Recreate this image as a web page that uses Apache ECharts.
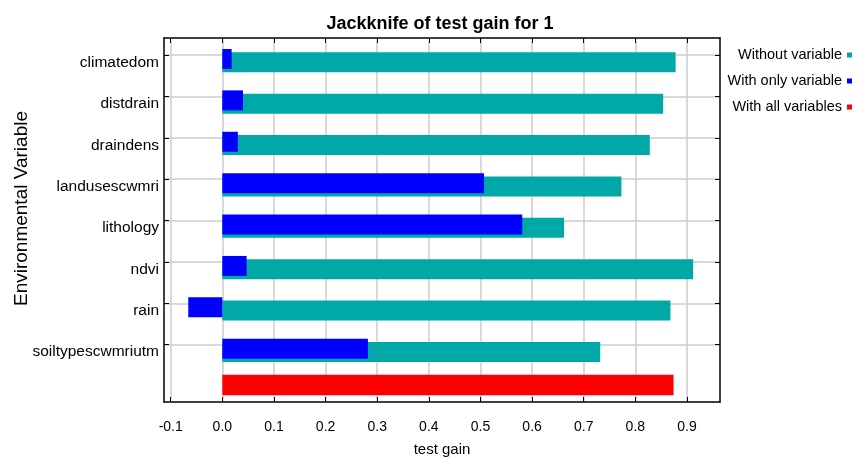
<!DOCTYPE html>
<html>
<head>
<meta charset="utf-8">
<script src="https://cdn.jsdelivr.net/npm/echarts@6/dist/echarts.min.js"></script>
<style>
  html, body { margin: 0; padding: 0; background: #ffffff; }
  #chart { width: 864px; height: 458px; }
</style>
</head>
<body>
<div id="chart"></div>
<script>
// ---- data ----
const categories = ['climatedom', 'distdrain', 'draindens', 'landusescwmri', 'lithology', 'ndvi', 'rain', 'soiltypescwmriutm'];
const withoutVariable = [0.878, 0.854, 0.828, 0.773, 0.662, 0.912, 0.868, 0.732];
const withOnlyVariable = [0.018, 0.040, 0.030, 0.507, 0.581, 0.047, -0.066, 0.282];
const withAllVariables = [0.874];
const xTicks = [-0.1, 0.0, 0.1, 0.2, 0.3, 0.4, 0.5, 0.6, 0.7, 0.8, 0.9];
const seriesNames = ['Without variable', 'With only variable', 'With all variables'];

// ---- build ----
const rowIdx = categories.map((_, i) => i);
const allRow = categories.length; // unlabeled bottom row
const FONT = '"Liberation Sans", Arial, sans-serif';

function barRenderer(offsetFrac, heightFrac) {
  return function (params, api) {
    const idx = api.value(1);
    const p0 = api.coord([0, idx]);
    const p1 = api.coord([api.value(0), idx]);
    const band = Math.abs(api.size([0, 1])[1]);
    const h = band * heightFrac;
    const cy = p0[1] + band * offsetFrac;
    return {
      type: 'rect',
      shape: { x: Math.min(p0[0], p1[0]), y: cy - h / 2, width: Math.abs(p1[0] - p0[0]), height: h },
      style: api.style()
    };
  };
}

const xMin = -0.113, xMax = 0.964;
const yMin = -0.41, yMax = 8.384;

const chart = echarts.init(document.getElementById('chart'), null, { renderer: 'canvas' });
chart.setOption({
  backgroundColor: '#ffffff',
  animation: false,
  title: {
    text: 'Jackknife of test gain for 1',
    left: 435, top: 10, textAlign: 'center',
    textStyle: { fontFamily: FONT, fontSize: 18, fontWeight: 'bold', color: '#000' }
  },
  legend: {
    data: seriesNames,
    orient: 'vertical',
    right: 12, top: 46, padding: 0,
    align: 'right',
    icon: 'rect',
    itemWidth: 5, itemHeight: 5, itemGap: 8,
    textStyle: { fontFamily: FONT, fontSize: 14.5, lineHeight: 18, color: '#000' }
  },
  grid: { left: 164, right: 144, top: 38, bottom: 56, containLabel: false, outerBoundsMode: 'none' },
  xAxis: [
    {
      type: 'value', min: xMin, max: xMax, position: 'bottom',
      name: 'test gain', nameLocation: 'middle', nameGap: 40, nameMoveOverlap: false,
      nameTextStyle: { fontFamily: FONT, fontSize: 15, color: '#000' },
      axisLine: { show: true, onZero: false, lineStyle: { color: '#000', width: 1.5 } },
      axisTick: { show: true, inside: true, length: 5, customValues: xTicks, lineStyle: { color: '#000' } },
      axisLabel: { customValues: xTicks, margin: 18, fontFamily: FONT, fontSize: 14, color: '#000',
                   formatter: v => v.toFixed(1) },
      splitLine: { show: true, lineStyle: { color: '#cccccc', width: 1.5 } }
    },
    {
      type: 'value', min: xMin, max: xMax, position: 'top',
      axisLine: { show: true, onZero: false, lineStyle: { color: '#000', width: 1.5 } },
      axisTick: { show: true, inside: true, length: 5, customValues: xTicks, lineStyle: { color: '#000' } },
      axisLabel: { show: false },
      splitLine: { show: false }
    }
  ],
  yAxis: [
    {
      type: 'value', min: yMin, max: yMax, inverse: true, position: 'left',
      name: 'Environmental Variable', nameLocation: 'middle', nameGap: 133, nameRotate: 90,
      nameMoveOverlap: false,
      nameTextStyle: { fontFamily: FONT, fontSize: 19, color: '#000', padding: [0, 0, 0, 23] },
      axisLine: { show: true, onZero: false, lineStyle: { color: '#000', width: 1.5 } },
      axisTick: { show: true, inside: true, length: 5, customValues: rowIdx, lineStyle: { color: '#000' } },
      axisLabel: { customValues: rowIdx, margin: 5, fontFamily: FONT, fontSize: 15.5, lineHeight: 15,
                   verticalAlign: 'top', color: '#000',
                   formatter: v => categories[Math.round(v)] || '' },
      splitLine: { show: true, lineStyle: { color: '#cccccc', width: 1.5 } }
    },
    {
      type: 'value', min: yMin, max: yMax, inverse: true, position: 'right',
      axisLine: { show: true, onZero: false, lineStyle: { color: '#000', width: 1.5 } },
      axisTick: { show: true, inside: true, length: 5, customValues: rowIdx, lineStyle: { color: '#000' } },
      axisLabel: { show: false },
      splitLine: { show: false }
    }
  ],
  series: [
    {
      name: seriesNames[0], type: 'custom', xAxisIndex: 0, yAxisIndex: 0, z: 2,
      itemStyle: { color: '#00a8a8' },
      encode: { x: 0, y: 1 },
      renderItem: barRenderer(0.176, 0.483),
      data: withoutVariable.map((v, i) => [v, i])
    },
    {
      name: seriesNames[1], type: 'custom', xAxisIndex: 0, yAxisIndex: 0, z: 3,
      itemStyle: { color: '#0000ff' },
      encode: { x: 0, y: 1 },
      renderItem: barRenderer(0.097, 0.483),
      data: withOnlyVariable.map((v, i) => [v, i])
    },
    {
      name: seriesNames[2], type: 'custom', xAxisIndex: 0, yAxisIndex: 0, z: 3,
      itemStyle: { color: '#ff0000' },
      encode: { x: 0, y: 1 },
      renderItem: barRenderer(-0.027, 0.5),
      data: withAllVariables.map(v => [v, allRow])
    }
  ]
});
</script>
</body>
</html>
